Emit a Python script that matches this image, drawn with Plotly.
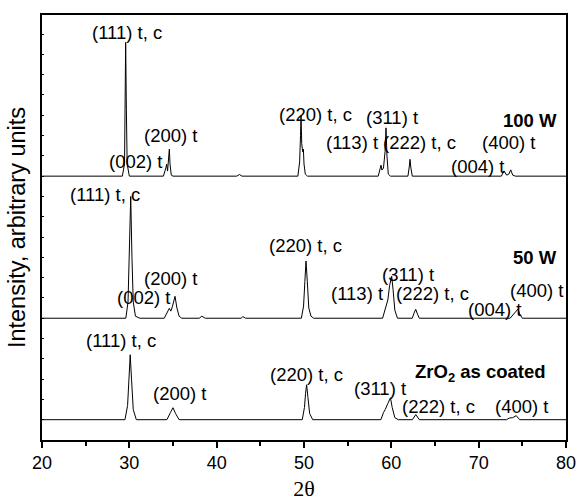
import plotly.graph_objects as go

# ---------------- data ----------------
two_theta_100W = [20.0, 29.2, 29.45, 29.52, 29.58, 29.66, 29.75, 30.0,
                  33.9, 34.18, 34.28, 34.38, 34.52, 34.58, 34.66, 34.8, 35.0,
                  42.3, 42.6, 42.9,
                  49.3, 49.5, 49.6, 49.66, 49.74, 49.85, 49.93, 50.0, 50.15, 50.4,
                  58.5, 58.72, 58.82, 58.92, 59.1, 59.28, 59.39, 59.5, 59.65, 59.9,
                  61.9, 62.05, 62.14, 62.24, 62.4,
                  72.6, 72.9, 73.2, 73.45, 73.67, 73.9, 74.2, 80.0]
intensity_100W = [0.0, 0.0, 0.6, 3.3, 6.59, 3.3, 0.6, 0.0,
                  0.0, 0.4, 0.59, 0.25, 0.9, 1.33, 0.6, 0.05, 0.0,
                  0.0, 0.08, 0.0,
                  0.0, 0.7, 2.0, 2.97, 1.6, 1.2, 1.33, 0.6, 0.1, 0.0,
                  0.0, 0.3, 0.54, 0.3, 0.4, 1.2, 2.38, 1.0, 0.1, 0.0,
                  0.0, 0.45, 0.83, 0.4, 0.0,
                  0.0, 0.26, 0.05, 0.1, 0.31, 0.05, 0.0, 0.0]

two_theta_50W = [20.0, 29.6, 29.85, 30.0, 30.16, 30.3, 30.45, 30.7, 31.2,
                 34.0, 34.35, 34.58, 34.75, 34.95, 35.23, 35.45, 35.7, 36.0,
                 38.0, 38.3, 38.7,
                 42.8, 43.0, 43.3,
                 49.7, 49.95, 50.1, 50.23, 50.38, 50.55, 50.8, 51.1,
                 59.0, 59.3, 59.47, 59.6, 59.8, 60.04, 60.2, 60.4, 60.7,
                 62.4, 62.6, 62.79, 63.0, 63.2,
                 73.6, 74.0, 74.2, 74.5, 74.7, 75.0, 80.0]
intensity_50W = [0.0, 0.0, 0.8, 3.0, 6.0, 3.0, 0.8, 0.1, 0.0,
                 0.0, 0.3, 0.49, 0.35, 0.6, 1.08, 0.5, 0.1, 0.0,
                 0.0, 0.1, 0.0,
                 0.0, 0.08, 0.0,
                 0.0, 0.6, 1.8, 2.82, 1.8, 0.5, 0.1, 0.0,
                 0.0, 0.5, 0.75, 0.9, 1.6, 2.07, 1.4, 0.4, 0.0,
                 0.0, 0.25, 0.44, 0.2, 0.0,
                 0.0, 0.2, 0.3, 0.45, 0.2, 0.0, 0.0]

two_theta_coated = [20.0, 29.5, 29.8, 29.98, 30.1, 30.25, 30.45, 30.8,
                    34.3, 34.7, 35.0, 35.3, 35.7,
                    49.8, 50.05, 50.18, 50.3, 50.45, 50.65, 51.0,
                    58.8, 59.1, 59.3, 59.6, 59.9, 60.1, 60.4, 60.8,
                    62.4, 62.8, 63.2,
                    73.2, 73.5, 73.9, 74.3, 74.7, 80.0]
intensity_coated = [0.0, 0.0, 0.7, 2.0, 3.2, 2.0, 0.5, 0.0,
                    0.0, 0.35, 0.59, 0.3, 0.0,
                    0.0, 0.6, 1.3, 1.72, 1.1, 0.3, 0.0,
                    0.0, 0.35, 0.5, 0.8, 1.08, 0.6, 0.1, 0.0,
                    0.0, 0.25, 0.0,
                    0.0, 0.08, 0.1, 0.2, 0.0, 0.0]

series_names = ["100 W", "50 W", "ZrO<sub>2</sub> as coated"]
series_offsets = [13, 6, 1]

# peak labels: (text, 2theta, intensity-axis position)
labels_100W = [("(111) t, c", 29.73, 20.07), ("(002) t", 30.65, 13.74),
               ("(200) t", 34.66, 14.98), ("(220) t, c", 51.37, 16.06),
               ("(311) t", 60.02, 15.91), ("(113) t", 55.5, 14.68),
               ("(222) t, c", 63.28, 14.68), ("(400) t", 73.36, 14.68),
               ("(004) t", 69.81, 13.5)]
labels_50W = [("(111) t, c", 27.21, 12.12), ("(200) t", 34.66, 7.98),
              ("(002) t", 31.57, 7.0), ("(220) t, c", 50.12, 9.56),
              ("(311) t", 61.96, 8.13), ("(113) t", 56.07, 7.24),
              ("(222) t, c", 64.66, 7.24), ("(004) t", 71.76, 6.45),
              ("(400) t", 76.57, 7.39)]
labels_coated = [("(111) t, c", 29.05, 4.88), ("(200) t", 35.69, 2.27),
                 ("(220) t, c", 50.23, 3.25), ("(311) t", 58.7, 2.56),
                 ("(222) t, c", 65.35, 1.67), ("(400) t", 74.85, 1.67)]
series_label_pos = [(79.2, 15.76), (79.2, 8.97), (77.94, 3.3)]

x_ticks = [20, 30, 40, 50, 60, 70, 80]

# ---------------- figure ----------------
fig = go.Figure()
xs = [two_theta_100W, two_theta_50W, two_theta_coated]
ys = [intensity_100W, intensity_50W, intensity_coated]
for x, y, off, name in zip(xs, ys, series_offsets, series_names):
    fig.add_trace(go.Scatter(x=x, y=[v + off for v in y], mode="lines",
                             line=dict(color="black", width=1), name=name,
                             showlegend=False))

font_lbl = dict(family="Liberation Sans, Arial, sans-serif", size=18.5, color="black")
ann = []
for group in (labels_100W, labels_50W, labels_coated):
    for text, xv, yv in group:
        ann.append(dict(x=xv, y=yv, xref="x", yref="y", text=text, showarrow=False,
                        xanchor="center", yanchor="middle", font=font_lbl))
for name, (xv, yv) in zip(series_names, series_label_pos):
    ann.append(dict(x=xv, y=yv, xref="x", yref="y", text="<b>" + name + "</b>",
                    showarrow=False, xanchor="right", yanchor="middle", font=font_lbl))
fig.update_layout(annotations=ann)

fig.update_layout(
    width=580, height=501,
    margin=dict(l=42, r=14, t=15, b=61, autoexpand=False),
    paper_bgcolor="white", plot_bgcolor="white",
    font=dict(family="Liberation Sans, Arial, sans-serif", size=18, color="black"),
    xaxis=dict(range=[20, 80], tickvals=x_ticks, ticktext=[str(t) for t in x_ticks],
               ticks="outside", ticklen=6, tickwidth=1.5, tickcolor="black",
               minor=dict(dtick=5, ticks="outside", ticklen=4, tickwidth=1.5, tickcolor="black"),
               showline=True, linecolor="black", linewidth=1.6, mirror=True,
               showgrid=False, zeroline=False, automargin=False,
               tickfont=dict(size=18),
               title=dict(text="2θ", font=dict(family="Liberation Serif, Times New Roman, serif", size=22),
                          standoff=8)),
    yaxis=dict(range=[0, 20.94], dtick=1, tick0=0, ticks="inside", ticklen=2,
               tickwidth=1, tickcolor="black", showticklabels=False,
               showline=True, linecolor="black", linewidth=1.6, mirror=True,
               showgrid=False, zeroline=False, automargin=False,
               title=dict(text="Intensity, arbitrary units", font=dict(size=23.5), standoff=8)),
)

fig.write_html("out.html", config={"displayModeBar": False},
               post_script="document.body.style.margin='0px';")
